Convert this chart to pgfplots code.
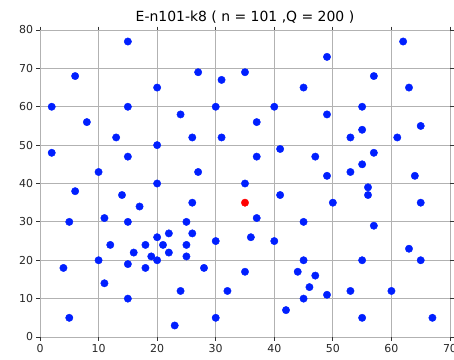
\documentclass[border=0pt]{standalone}
\usepackage{pgfplots}
\pgfplotsset{compat=1.18}
\usepackage{fontspec}
\setmainfont{DejaVu Sans}
\definecolor{ptblue}{rgb}{0,0.12,1}
\begin{document}
\begin{tikzpicture}[x=1bp,y=1bp]
\begin{axis}[
  scale only axis, width=410bp, height=307bp,
  xmin=0, xmax=70, ymin=0, ymax=80,
  xtick={0,10,...,70}, ytick={0,10,...,80},
  grid=major, grid style={draw=black!30, line width=0.8bp},
  axis line style={draw=none},
  tick align=outside, major tick length=3.5bp,
  tick style={black!80, line width=0.8bp},
  ticklabel style={font=\fontsize{11}{13}\selectfont, text=black!85},
  /pgf/number format/assume math mode=true,
  title={E-n101-k8 ( n = 101 ,Q = 200 )},
  title style={font=\fontsize{14}{16}\selectfont, yshift=-3bp},
  clip=false,
]
\coordinate (O) at (axis cs:0,0);
\addplot[only marks, mark=*, mark size=3.7bp, mark options={draw=ptblue, fill=ptblue}] coordinates {
(41,49)(35,17)(55,45)(55,20)(15,30)(25,30)(20,50)(10,43)(55,60)(30,60)
(20,65)(50,35)(30,25)(15,10)(30,5)(10,20)(5,30)(20,40)(15,60)(45,65)
(45,20)(45,10)(55,5)(65,35)(65,20)(45,30)(35,40)(41,37)(64,42)(40,60)
(31,52)(35,69)(53,52)(65,55)(63,65)(2,60)(20,20)(5,5)(60,12)(40,25)
(42,7)(24,12)(23,3)(11,14)(6,38)(2,48)(8,56)(13,52)(6,68)(47,47)
(49,58)(27,43)(37,31)(57,29)(63,23)(53,12)(32,12)(36,26)(21,24)(17,34)
(12,24)(24,58)(27,69)(15,77)(62,77)(49,73)(67,5)(56,39)(37,47)(37,56)
(57,68)(47,16)(44,17)(46,13)(49,11)(49,42)(53,43)(61,52)(57,48)(56,37)
(55,54)(15,47)(14,37)(11,31)(16,22)(4,18)(28,18)(26,52)(26,35)(31,67)
(15,19)(22,22)(18,24)(26,27)(25,24)(22,27)(25,21)(19,21)(20,26)(18,18)
};
\addplot[only marks, mark=*, mark size=3.7bp, mark options={draw=red, fill=red}] coordinates {(35,35)};
\end{axis}
\pgfresetboundingbox
\path (O) ++(-40bp,-23bp) rectangle ++(454bp,360bp);
\end{tikzpicture}
\end{document}
